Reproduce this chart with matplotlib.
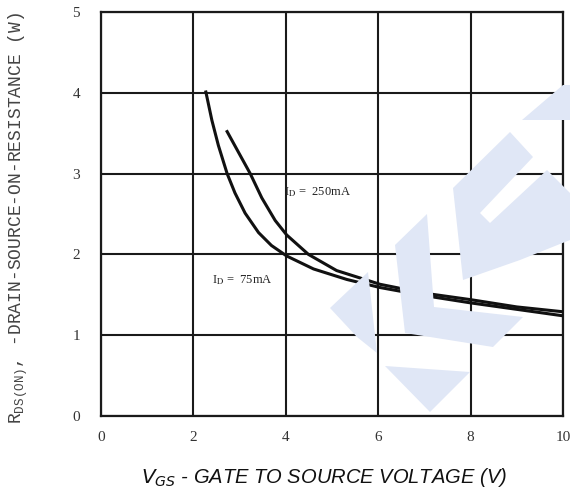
import numpy as np
import matplotlib
matplotlib.use("Agg")
import matplotlib.pyplot as plt
from matplotlib.patches import Polygon

plt.rcParams['mathtext.fontset'] = 'custom'
plt.rcParams['mathtext.rm'] = 'Liberation Mono'

# on-resistance vs gate voltage, two drain currents
vgs_75 = [2.27, 2.40, 2.54, 2.73, 2.90, 3.12, 3.41, 3.69, 4.02, 4.6, 5.32, 6.04, 7.0, 8.0, 9.0, 10.0]
rds_75 = [4.01, 3.66, 3.35, 3.0, 2.76, 2.51, 2.27, 2.11, 1.98, 1.82, 1.69, 1.59, 1.49, 1.40, 1.32, 1.24]
vgs_250 = [2.73, 2.97, 3.23, 3.48, 3.77, 4.02, 4.49, 5.10, 6.04, 7.0, 8.0, 9.0, 10.0]
rds_250 = [3.52, 3.27, 3.0, 2.70, 2.42, 2.24, 2.0, 1.80, 1.63, 1.52, 1.44, 1.35, 1.29]

x_ticks = [0, 2, 4, 6, 8, 10]
y_ticks = [0, 1, 2, 3, 4, 5]

W, H = 570, 490
fig = plt.figure(figsize=(5.7, 4.9), dpi=100)

# light blue logo behind the grid (pixel outlines)
logo = [
    [(330, 308), (368, 272), (377, 353), (357, 337)],
    [(385, 366), (470, 372), (430, 412)],
    [(395, 245), (427, 214), (434, 307), (523, 317), (493, 347), (405, 333)],
    [(453, 188), (510, 132), (533, 157), (480, 213), (490, 223), (547, 170),
     (570, 193), (570, 240), (520, 260), (463, 280)],
    [(522, 120), (563, 85), (570, 85), (570, 120)],
]
for pts in logo:
    fig.patches.append(Polygon([(x / W, 1 - y / H) for x, y in pts], closed=True,
                               transform=fig.transFigure, facecolor='#e0e7f6',
                               edgecolor='none', zorder=0))

ax = fig.add_axes([101 / W, 1 - 416 / H, 462 / W, 404 / H])
ax.patch.set_alpha(0)

ax.plot(vgs_75, rds_75, color='#111111', lw=2.2, solid_joinstyle='round', zorder=3)
ax.plot(vgs_250, rds_250, color='#111111', lw=2.2, solid_joinstyle='round', zorder=3)

ax.set_xlim(0, 10)
ax.set_ylim(0, 5)
ax.set_xticks(x_ticks)
ax.set_yticks(y_ticks)
ax.grid(True, color='#1a1a1a', lw=1.5)
ax.set_axisbelow(True)
for s in ax.spines.values():
    s.set_linewidth(1.6)
    s.set_color('#1a1a1a')

ax.tick_params(length=0, labelsize=11, colors='#333333')
ax.tick_params(axis='x', pad=11)
ax.tick_params(axis='y', pad=15)
for lab in ax.get_xticklabels() + ax.get_yticklabels():
    lab.set_family('Liberation Serif')

ax.text(3.96, 2.77, r'I$_{\mathrm{D}}$ =  250mA', fontsize=9, family='Liberation Serif',
        math_fontfamily='stix', va='center', ha='left', color='#222222')
ax.text(2.4, 1.68, r'I$_{\mathrm{D}}$ =  75mA', fontsize=9, family='Liberation Serif',
        math_fontfamily='stix', va='center', ha='left', color='#222222')

fig.text(18 / W, 1 - 218 / H, r'R$_{\mathrm{DS(ON)}}$, -DRAIN-SOURCE-ON-RESISTANCE (W)',
         rotation=90, ha='center', va='center', fontsize=13, family='Liberation Mono',
         color='#444444')

fig.text(324 / W, 1 - 477 / H, r'$V_{GS}$ - GATE TO SOURCE VOLTAGE (V)',
         ha='center', va='center', fontsize=14.5, family='Liberation Sans',
         style='italic', math_fontfamily='dejavusans', color='#111111')

fig.savefig('out.png', dpi=100)
